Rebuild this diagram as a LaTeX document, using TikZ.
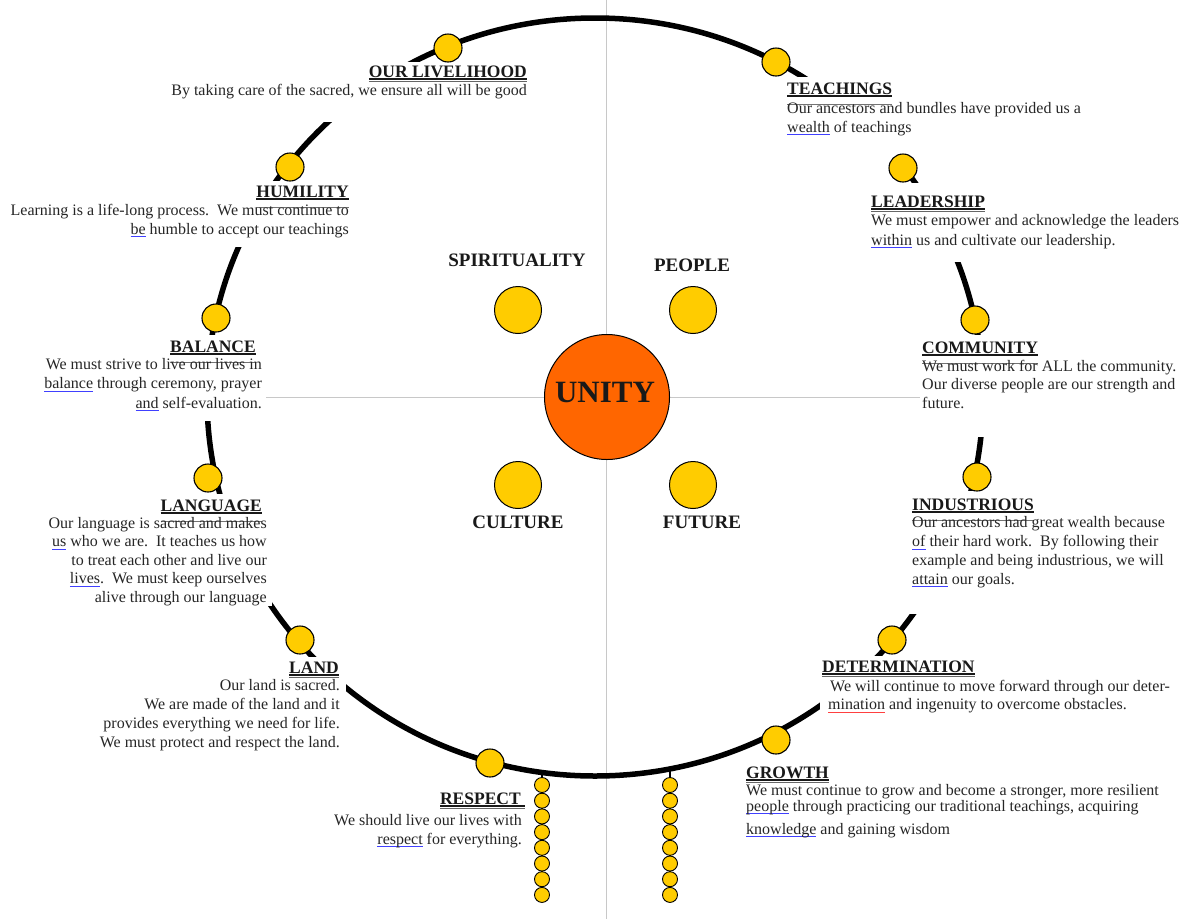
\documentclass[tikz,border=0pt]{standalone}
\usepackage{fontspec}
\setmainfont{Liberation Serif}
\definecolor{beadyellow}{HTML}{FFCC00}
\definecolor{unityorange}{HTML}{FF6600}
\definecolor{guide}{HTML}{C8C8C8}
\newlength\hdw
% heading with underline and the text-box edge below it
\newcommand\hd[1]{\settowidth\hdw{#1}\rlap{\rule[-2.5pt]{\hdw}{1.1pt}}\rlap{\color{black!55}\rule[-10.5pt]{\hdw}{0.9pt}}#1}
% heading with a heavier (double) underline only
\newcommand\hdu[1]{\settowidth\hdw{#1}\rlap{\rule[-2.5pt]{\hdw}{1.1pt}}\rlap{\color{black!60}\rule[-4.6pt]{\hdw}{0.9pt}}#1}
\newcommand\bsq[1]{\settowidth\hdw{#1}\rlap{\color{blue!75}\rule[-3pt]{\hdw}{0.7pt}}#1}
\newcommand\rsq[1]{\settowidth\hdw{#1}\rlap{\color{red!75}\rule[-3pt]{\hdw}{0.7pt}}#1}
\tikzset{
  bead/.style={circle, draw=black, line width=1.1pt, fill=beadyellow, minimum size=28pt, inner sep=0pt},
  smallbead/.style={circle, draw=black, line width=0.9pt, fill=beadyellow, minimum size=15pt, inner sep=0pt},
  quad/.style={circle, draw=black, line width=1pt, fill=beadyellow, minimum size=47pt, inner sep=0pt},
  hdR/.style={anchor=base east, inner sep=0pt, font=\fontsize{17.5}{20}\selectfont\bfseries, text=black!90},
  hdL/.style={anchor=base west, inner sep=0pt, font=\fontsize{17.5}{20}\selectfont\bfseries, text=black!90},
  bodyR/.style={anchor=base east, inner sep=0pt, align=right, font=\fontsize{16}{#1}\selectfont\frenchspacing, text=black!85},
  bodyR/.default=18.5,
  bodyL/.style={anchor=base west, inner sep=0pt, align=left, font=\fontsize{16}{#1}\selectfont\frenchspacing, text=black!85},
  bodyL/.default=18.5,
  cover/.style={fill=white, draw=none},
  qlabel/.style={anchor=base, inner sep=0pt, font=\fontsize{19}{22}\selectfont\bfseries, text=black!90},
  ring/.style={line width=5.5pt, draw=black},
  guideline/.style={draw=guide, line width=0.8pt},
  string/.style={draw=black, line width=1.5pt},
}
\begin{document}
\begin{tikzpicture}[x=1pt,y=-1pt]
\useasboundingbox[fill=white] (0,0) rectangle (1183,919);
% quadrant guides
\draw[guideline] (606,0) -- (606,919);
\draw[guideline] (262,397) -- (920,397);
% ring
\draw[ring] (595,397) ellipse [x radius=388pt, y radius=379pt];
% hanging strings
\coordinate (lsTop) at (542,772);
\coordinate (rsTop) at (670,769);
\coordinate (lsEnd) at (542,895);
\coordinate (rsEnd) at (670,895);
\draw[string] (lsTop) -- (lsEnd);
\draw[string] (rsTop) -- (rsEnd);
% text-box covers
\fill[cover] (168,62) rectangle (532,122);
\fill[cover] (8,181) rectangle (354,247);
\fill[cover] (38,335) rectangle (266,421);
\fill[cover] (45,494) rectangle (272,606);
\fill[cover] (140,657) rectangle (346,752);
\fill[cover] (785,77) rectangle (1085,160);
\fill[cover] (865,183) rectangle (1180,262);
\fill[cover] (920,335) rectangle (1180,437);
\fill[cover] (908,491) rectangle (1180,614);
\fill[cover] (820,656) rectangle (1175,711);
% beads on ring
\node[bead] (bLive) at (448,48) {};
\node[bead] (bTeach) at (776,62) {};
\node[bead] (bLead) at (903,168) {};
\node[bead] (bComm) at (975,320) {};
\node[bead] (bIndu) at (977,477) {};
\node[bead] (bDete) at (892,640) {};
\node[bead] (bGrow) at (776,740) {};
\node[bead] (bResp) at (490,763) {};
\node[bead] (bLand) at (300,640) {};
\node[bead] (bLang) at (208,478) {};
\node[bead] (bBala) at (216,318) {};
\node[bead] (bHumi) at (290,167) {};
% hanging beads
\foreach \i in {0,...,7} {
  \node[smallbead] (ls\i) at (542,{785+15.7*\i}) {};
  \node[smallbead] (rs\i) at (670,{785+15.7*\i}) {};
}
% centre
\node[circle, draw=black, line width=1pt, fill=unityorange, minimum size=125pt, inner sep=0pt] (unity) at (607,397) {};
\node[inner sep=0pt, font=\fontsize{31}{34}\selectfont\bfseries, text=black!90] (unityT) at (605,392) {UNITY};
\node[quad] (qSpi) at (518,310) {};
\node[quad] (qPeo) at (693,310) {};
\node[quad] (qCul) at (518,485) {};
\node[quad] (qFut) at (693,485) {};
\node[qlabel] (lSpi) at (517,266.5) {SPIRITUALITY};
\node[qlabel] (lPeo) at (692,271) {PEOPLE};
\node[qlabel] (lCul) at (518,528) {CULTURE};
\node[qlabel] (lFut) at (702,528.5) {FUTURE};
% left texts (body nodes are placed by the baseline of their last line)
\node[hdR] (hLive) at (527,77) {\hdu{OUR LIVELIHOOD}};
\node[bodyR] (tLive) at (527,95) {By taking care of the sacred, we ensure all will be good};
\node[hdR] (hHumi) at (349,197) {\hd{HUMILITY}};
\node[bodyR=19] (tHumi) at (349,234) {Learning is a life-long process.\ \ We must continue to\\ \bsq{be} humble to accept our teachings};
\node[hdR] (hBala) at (256,352) {\hd{BALANCE}};
\node[bodyR=19.5] (tBala) at (262,408) {We must strive to live our lives in\\ \bsq{balance} through ceremony, prayer\\ \bsq{and} self-evaluation.};
\node[hdR] (hLang) at (262,511) {\hd{LANGUAGE}};
\node[bodyR=18.5] (tLang) at (267,602) {Our language is sacred and makes\\ \bsq{us} who we are.\ \ It teaches us how\\ to treat each other and live our\\ \bsq{lives}.\ \ We must keep ourselves\\ alive through our language};
\node[hdR] (hLand) at (339,673) {\hdu{LAND}};
\node[bodyR=18.7] (tLand) at (340,747) {Our land is sacred.\\ We are made of the land and it\\ provides everything we need for life.\\ We must protect and respect the land.};
\node[hdR] (hResp) at (521,804) {\hdu{RESPECT\ }};
\node[bodyR=19] (tResp) at (522,844) {We should live our lives with\\ \bsq{respect} for everything.};
% right texts
\node[hdL] (hTeach) at (787,94) {\hd{TEACHINGS}};
\node[bodyL=19] (tTeach) at (787,132) {Our ancestors and bundles have provided us a\\ \bsq{wealth} of teachings};
\node[hdL] (hLead) at (871,207) {\hdu{LEADERSHIP}};
\node[bodyL=20] (tLead) at (871,245) {We must empower and acknowledge the leaders\\ \bsq{within} us and cultivate our leadership.};
\node[hdL] (hComm) at (922,353) {\hd{COMMUNITY}};
\node[bodyL=18.5] (tComm) at (922,408) {We must work for ALL the community.\\ Our diverse people are our strength and\\ future.};
\node[hdL] (hIndu) at (912,510) {\hd{INDUSTRIOUS}};
\node[bodyL=18.7] (tIndu) at (912,584) {Our ancestors had great wealth because\\ \bsq{of} their hard work.\ \ By following their\\ example and being industrious, we will\\ \bsq{attain} our goals.};
\node[hdL] (hDete) at (822,672) {\hdu{DETERMINATION}};
\node[bodyL=18.5] (tDete) at (828,709.5) {\hspace{2pt}We will continue to move forward through our deter-\\ \rsq{mination} and ingenuity to overcome obstacles.};
\node[hdL] (hGrow) at (746,778) {\hdu{GROWTH}};
\node[bodyL=18.5] (tGrow) at (746,834) {We must continue to grow and become a stronger, more resilient\\[-2.5pt] \bsq{people} through practicing our traditional teachings, acquiring\\[4.5pt] \bsq{knowledge} and gaining wisdom};
\end{tikzpicture}
\end{document}
